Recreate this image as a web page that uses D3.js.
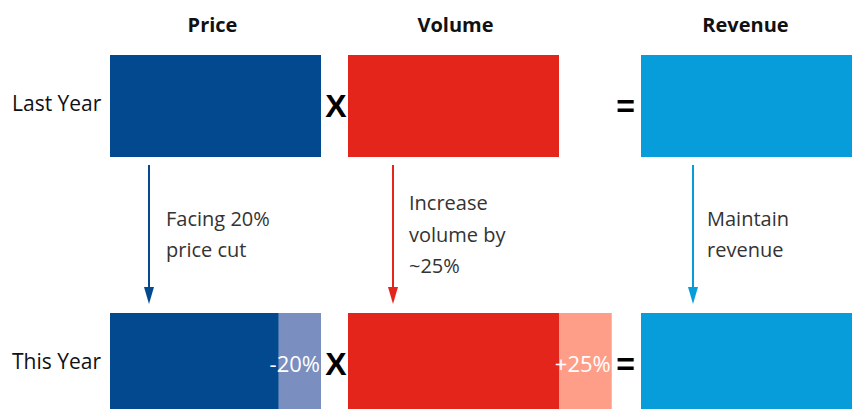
<!DOCTYPE html>
<html>
<head>
<meta charset="utf-8">
<script src="https://cdn.jsdelivr.net/npm/d3@7/dist/d3.min.js"></script>
<style>
  html, body { margin: 0; padding: 0; background: #fff; }
  svg { display: block; }
  text { font-family: "Open Sans", "Noto Sans", sans-serif; }
</style>
</head>
<body>
<svg id="chart" width="852" height="409"></svg>
<script>
// ---- data ----
const columns = ["Price", "Volume", "Revenue"];
const rows = ["Last Year", "This Year"];
const lastYear = [100, 100, 100];          // index, last year = 100
const thisYearBase = [80, 100, 100];       // retained part this year
const thisYearChange = [20, 25, 0];        // shaded change segment
const changeLabels = ["-20%", "+25%", ""];
const notes = [
  ["Facing 20%", "price cut"],
  ["Increase", "volume by", "~25%"],
  ["Maintain", "revenue"]
];
const operators = ["X", "="];

// ---- styling / layout ----
const darkColors = ["#03498F", "#E4251B", "#069DDA"];
const lightColors = ["#7A8EBF", "#FF9E88", "#9FD6EE"];

const svg = d3.select("#chart");

// each column starts at its own offset; bar length is a linear scale of the index value
const colX = d3.scaleOrdinal().domain(columns).range([110, 348, 641]);
const len = d3.scaleLinear().domain([0, 100]).range([0, 211]);
const rowY = d3.scaleBand().domain(rows).range([55, 415]).paddingInner(0.6047).paddingOuter(0);
const bh = rowY.bandwidth();

// column headers
const headerShift = [-3, 2, -1];
svg.selectAll("text.header").data(columns).join("text")
  .attr("class", "header")
  .attr("x", (d, i) => colX(d) + len(lastYear[i]) / 2 + headerShift[i])
  .attr("y", 32)
  .attr("text-anchor", "middle")
  .attr("font-weight", 700)
  .attr("font-size", 20)
  .attr("fill", "#111")
  .text(d => d);

// row labels
svg.selectAll("text.rowlabel").data(rows).join("text")
  .attr("class", "rowlabel")
  .attr("x", 12)
  .attr("y", d => rowY(d) + bh / 2 + 5)
  .attr("font-size", 21)
  .attr("fill", "#111")
  .text(d => d);

// last year bars
svg.selectAll("rect.last").data(columns).join("rect")
  .attr("class", "last")
  .attr("x", d => colX(d))
  .attr("y", rowY("Last Year"))
  .attr("width", (d, i) => len(lastYear[i]))
  .attr("height", bh)
  .attr("fill", (d, i) => darkColors[i]);

// this year: retained part
svg.selectAll("rect.base").data(columns).join("rect")
  .attr("class", "base")
  .attr("x", d => colX(d))
  .attr("y", rowY("This Year"))
  .attr("width", (d, i) => len(thisYearBase[i]))
  .attr("height", bh)
  .attr("fill", (d, i) => darkColors[i]);

// this year: change segment
svg.selectAll("rect.change").data(columns.filter((d, i) => thisYearChange[i] > 0)).join("rect")
  .attr("class", "change")
  .attr("x", d => { const i = columns.indexOf(d); return colX(d) + len(thisYearBase[i]); })
  .attr("y", rowY("This Year"))
  .attr("width", d => len(thisYearChange[columns.indexOf(d)]))
  .attr("height", bh)
  .attr("fill", d => lightColors[columns.indexOf(d)]);

// change labels inside the shaded segment
svg.selectAll("text.change").data(columns.filter((d, i) => changeLabels[i])).join("text")
  .attr("class", "change")
  .attr("x", d => { const i = columns.indexOf(d); return colX(d) + len(thisYearBase[i] + thisYearChange[i]) - 1; })
  .attr("y", rowY("This Year") + 59)
  .attr("text-anchor", "end")
  .attr("font-size", 22)
  .attr("fill", "#fff")
  .text(d => changeLabels[columns.indexOf(d)]);

// operators between columns ("X" after price, "=" before revenue)
const opX = [
  (colX("Price") + len(lastYear[0]) + colX("Volume")) / 2 + 1.5,
  (colX("Volume") + len(lastYear[1]) + colX("Revenue")) / 2 + 25.5
];
rows.forEach(r => {
  svg.selectAll(null).data(operators).join("text")
    .attr("x", (d, i) => opX[i])
    .attr("y", (d, i) => rowY(r) + bh / 2 + 11)
    .attr("text-anchor", "middle")
    .style("font-family", "'Liberation Sans', Arial, sans-serif")
    .attr("font-weight", 700)
    .attr("font-size", 32)
    .attr("fill", "#000")
    .text(d => d);
});

// arrows from last year to this year, with notes
const arrowOffset = [39, 45, 52];
const noteGap = [17, 16, 14];
const arrowTop = rowY("Last Year") + bh + 8;
const arrowTip = rowY("This Year") - 9;
columns.forEach((c, i) => {
  const ax = colX(c) + arrowOffset[i];
  svg.append("line")
    .attr("x1", ax).attr("x2", ax)
    .attr("y1", arrowTop).attr("y2", arrowTip - 14)
    .attr("stroke", darkColors[i])
    .attr("stroke-width", 2);
  svg.append("path")
    .attr("d", d3.line()([[ax - 5, arrowTip - 17], [ax + 5, arrowTip - 17], [ax, arrowTip]]) + "Z")
    .attr("fill", darkColors[i]);

  const lineH = 31.5;
  const mid = 241.5;
  const first = mid - (notes[i].length - 1) * lineH / 2;
  const t = svg.append("text")
    .attr("font-size", 20)
    .attr("fill", "#333");
  notes[i].forEach((s, k) => {
    t.append("tspan").attr("x", ax + noteGap[i]).attr("y", first + k * lineH).text(s);
  });
});
</script>
</body>
</html>
